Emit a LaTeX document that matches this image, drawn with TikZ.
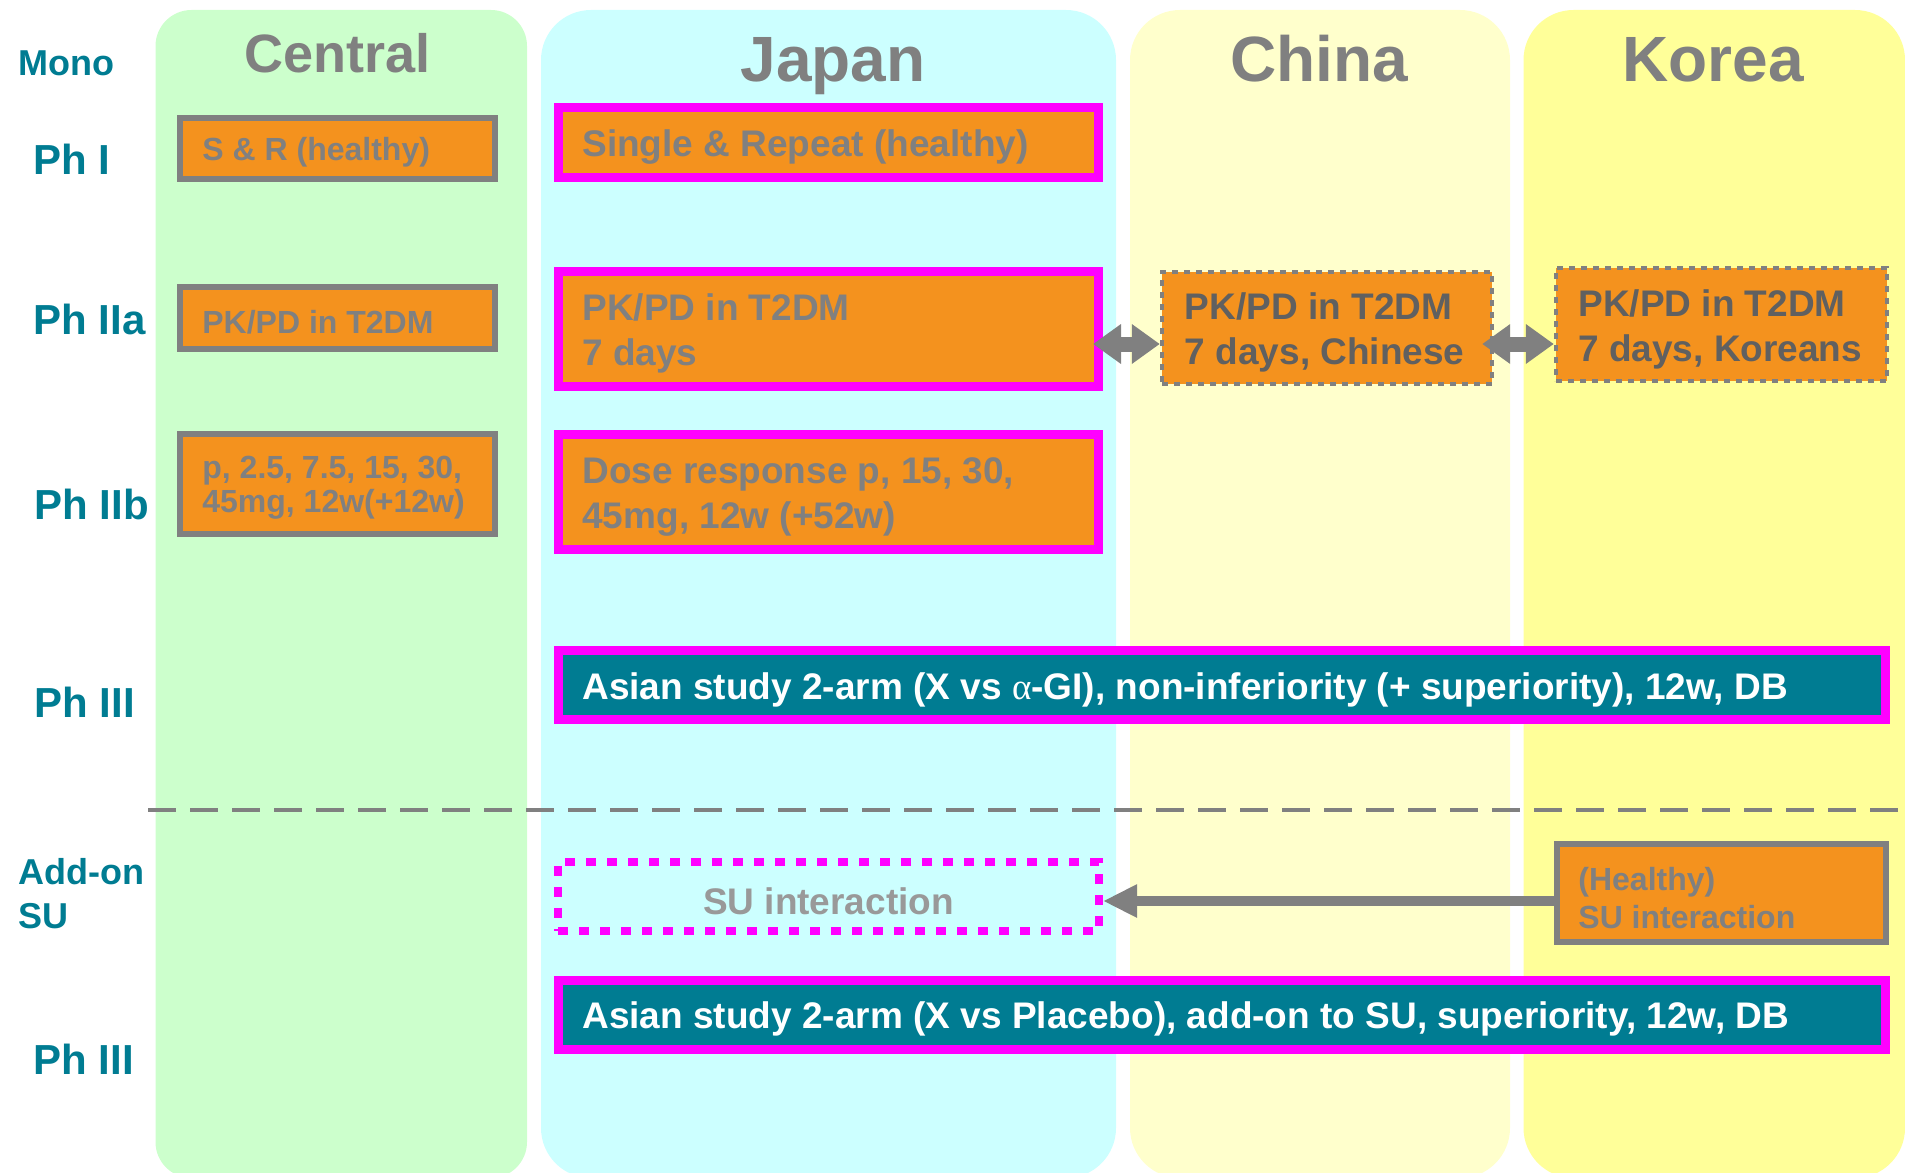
\documentclass[tikz,border=0pt]{standalone}
\usepackage{fontspec}
\setmainfont{Liberation Sans}
\newfontfamily\grk{Liberation Serif}
\usetikzlibrary{arrows.meta,calc}
\definecolor{tealc}{RGB}{0,124,146}
\definecolor{orgc}{RGB}{244,146,30}
\definecolor{magc}{RGB}{255,0,255}
\definecolor{grc}{RGB}{128,128,128}
\definecolor{grdc}{RGB}{96,96,96}
\definecolor{grlc}{RGB}{153,153,153}
\definecolor{colC}{RGB}{204,255,204}
\definecolor{colJ}{RGB}{204,255,255}
\definecolor{colCh}{RGB}{255,255,204}
\definecolor{colK}{RGB}{255,255,153}
\begin{document}
\begin{tikzpicture}[x=0.5pt,y=-0.5pt,
  hdrsmall/.style={text=grc, inner sep=0pt, anchor=base, font=\fontsize{27}{30}\selectfont\bfseries},
  hdrbig/.style={text=grc, inner sep=0pt, anchor=base, font=\fontsize{32}{36}\selectfont\bfseries},
  lblbig/.style={text=tealc, anchor=west, inner sep=0pt, align=left, font=\fontsize{21}{25}\selectfont\bfseries},
  lblsmall/.style={text=tealc, anchor=west, inner sep=0pt, align=left, font=\fontsize{18}{22}\selectfont\bfseries},
  gbox/.style={fill=orgc, draw=grc, line width=3pt, inner sep=0pt},
  mbox/.style={fill=orgc, draw=magc, line width=4.5pt, inner sep=0pt},
  dbox/.style={fill=orgc, draw=grc, line width=2.2pt, dash pattern=on 3pt off 3pt, inner sep=0pt},
  tbox/.style={fill=tealc, draw=magc, line width=4.5pt, inner sep=0pt},
  sbox/.style={draw=magc, line width=4pt, dash pattern=on 5pt off 5.5pt, inner sep=0pt},
  txtsmall/.style={anchor=west, inner sep=0pt, align=left, text=grc, yshift=-2pt, font=\fontsize{16}{17}\selectfont\bfseries},
  txtbig/.style={anchor=west, inner sep=0pt, align=left, text=grc, yshift=-2.3pt, font=\fontsize{18.5}{22.5}\selectfont\bfseries},
  dblarrow/.style={draw=grc, line width=7.5pt, {Triangle[length=14pt,width=19pt]}-{Triangle[length=14pt,width=19pt]}},
  onearrow/.style={draw=grc, line width=5.3pt, -{Triangle[length=17pt,width=15.5pt]}}
]
\useasboundingbox (0,0) rectangle (1905,1172);
% columns
\fill[colC, rounded corners=18pt] (155.5,10) rectangle (527,1178);
\fill[colJ, rounded corners=25pt] (541,10) rectangle (1116,1178);
\fill[colCh, rounded corners=25pt] (1130,10) rectangle (1510,1178);
\fill[colK, rounded corners=25pt] (1523.5,10) rectangle (1905,1178);
% headers
\node[hdrsmall] (hC) at (338,73) {Central};
\node[hdrbig] (hJ) at (833,82) {Japan};
\node[hdrbig] (hCh) at (1319,82) {China};
\node[hdrbig] (hK) at (1713,82) {Korea};
% row labels
\node[lblsmall] (lMono) at (18,63) {Mono};
\node[lblbig] (lP1) at (33,159) {Ph I};
\node[lblbig] (lP2a) at (33,319.5) {Ph IIa};
\node[lblbig] (lP2b) at (34,504) {Ph IIb};
\node[lblbig] (lP3a) at (34,702) {Ph III};
\node[lblsmall] (lAdd) at (18,894) {Add-on\\SU};
\node[lblbig] (lP3b) at (33,1059) {Ph III};
% dashed separator
\coordinate (dl) at (148,810);
\coordinate (dr) at (1905,810);
\draw[grc, line width=2.3pt, dash pattern=on 14pt off 7pt] (dl) -- (dr);
% central boxes
\node[gbox, minimum width=157.5pt, minimum height=30.5pt] (cS) at (337.5,148.5) {};
\node[txtsmall] (cSt) at (202,148.5) {S \& R (healthy)};
\node[gbox, minimum width=157.5pt, minimum height=31pt] (cP) at (337.5,318) {};
\node[txtsmall] (cPt) at (202,318) {PK/PD in T2DM};
\node[gbox, minimum width=157.5pt, minimum height=50pt] (cD) at (337.5,484) {};
\node[txtsmall] (cDt) at (202,484) {p, 2.5, 7.5, 15, 30,\\45mg, 12w(+12w)};
% japan boxes
\node[mbox, minimum width=270pt, minimum height=35pt] (jS) at (828.5,142.5) {};
\node[txtbig] (jSt) at (582,142.5) {Single \& Repeat (healthy)};
\node[mbox, minimum width=270pt, minimum height=57.5pt] (jP) at (828.5,329) {};
\node[txtbig] (jPt) at (582,329) {PK/PD in T2DM\\7 days};
\node[mbox, minimum width=270pt, minimum height=57.5pt] (jD) at (828.5,492) {};
\node[txtbig] (jDt) at (582,492) {Dose response p, 15, 30,\\45mg, 12w (+52w)};
% china / korea
\node[dbox, minimum width=165pt, minimum height=56pt] (chP) at (1327,328) {};
\node[txtbig, text=grdc] (chPt) at (1184.5,328) {PK/PD in T2DM\\7 days, Chinese};
\node[dbox, minimum width=165.5pt, minimum height=56.5pt] (kP) at (1721.5,324.5) {};
\node[txtbig, text=grdc] (kPt) at (1578,324.5) {PK/PD in T2DM\\7 days, Koreans};
% phase III mono
\node[tbox, minimum width=663.5pt, minimum height=34.5pt] (p3a) at (1222,685) {};
\node[txtbig, text=white] (p3at) at (582,685) {Asian study 2-arm (X vs {\grk\mdseries α}-GI), non-inferiority (+ superiority), 12w, DB};
% add-on
\node[sbox, minimum width=270.5pt, minimum height=34.5pt] (jSU) at (828.5,896.5) {};
\node[txtbig, anchor=center, text=grlc] (jSUt) at (828.5,896.5) {SU interaction};
\node[gbox, minimum width=164.5pt, minimum height=49pt] (kSU) at (1721.5,893) {};
\node[txtsmall, yshift=-0.5pt, font=\fontsize{16}{19}\selectfont\bfseries] (kSUt) at (1578,893) {(Healthy)\\SU interaction};
\node[tbox, minimum width=663.5pt, minimum height=34.5pt] (p3b) at (1222,1014.5) {};
\node[txtbig, text=white] (p3bt) at (582,1014.5) {Asian study 2-arm (X vs Placebo), add-on to SU, superiority, 12w, DB};
% connectors
\coordinate (ya) at (0,344);
\coordinate (yb) at (0,901);
\draw[dblarrow, shorten <=-5pt] (jP.east |- ya) -- (chP.west |- ya);
\draw[dblarrow, shorten <=-6pt] (chP.east |- ya) -- (kP.west |- ya);
\draw[onearrow] (kSU.west |- yb) -- (jSU.east |- yb);
\end{tikzpicture}
\end{document}
